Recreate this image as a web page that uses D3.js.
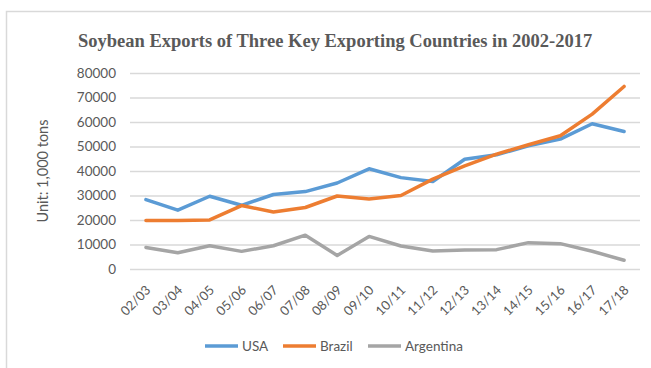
<!DOCTYPE html>
<html>
<head>
<meta charset="utf-8">
<script src="https://cdn.jsdelivr.net/npm/d3@7"></script>
<style>
  html, body { margin: 0; padding: 0; background: #fff; }
  svg { display: block; }
</style>
</head>
<body>
<svg id="chart" width="651" height="368"></svg>
<script>
// Marketing years (Sep/Aug) and exports in 1,000 tons
const seasons = ["02/03","03/04","04/05","05/06","06/07","07/08","08/09","09/10",
                 "10/11","11/12","12/13","13/14","14/15","15/16","16/17","17/18"];
const usa       = [28300, 24000, 29700, 26000, 30400, 31600, 35100, 40900,
                   37300, 35700, 44800, 46600, 50300, 53000, 59300, 56100];
const brazil    = [19800, 19800, 20050, 25900, 23300, 25100, 29800, 28600,
                   30000, 36700, 42100, 46900, 50700, 54400, 63200, 74500];
const argentina = [8800, 6650, 9500, 7200, 9500, 13800, 5550, 13300,
                   9400, 7350, 7750, 7900, 10750, 10350, 7250, 3550];
const yTicks = [0, 10000, 20000, 30000, 40000, 50000, 60000, 70000, 80000];
const seriesNames = ["USA", "Brazil", "Argentina"];
const seriesColors = ["#5B9BD5", "#ED7D31", "#A5A5A5"];

const series = [usa, brazil, argentina].map((values, i) => ({
  name: seriesNames[i], color: seriesColors[i], values
}));

const svg = d3.select("#chart");
const plot = { left: 130, right: 640, top: 73, bottom: 269 };
const textColor = "#595959";
const font = "Lato, 'Open Sans', sans-serif";

// outer chart frame
svg.append("rect")
  .attr("x", 6.5).attr("y", 11.5)
  .attr("width", 700).attr("height", 400)
  .attr("fill", "#fff").attr("stroke", "#D9D9D9").attr("stroke-width", 1.5);

const x = d3.scalePoint().domain(seasons).range([plot.left, plot.right]).padding(0.5);
const y = d3.scaleLinear().domain([0, 80000]).range([plot.bottom, plot.top]);

// title
svg.append("text")
  .attr("x", 78).attr("y", 46.5)
  .attr("font-family", "'Liberation Serif', 'Times New Roman', serif")
  .attr("font-weight", "bold").attr("font-size", 18.5)
  .attr("fill", textColor)
  .text("Soybean Exports of Three Key Exporting Countries in 2002-2017");

// horizontal gridlines + y labels
const yAxis = svg.append("g")
  .attr("transform", `translate(${plot.left},0)`)
  .call(d3.axisLeft(y).tickValues(yTicks).tickFormat(d3.format("d"))
        .tickSize(-(plot.right - plot.left)).tickPadding(14));
yAxis.select(".domain").remove();
yAxis.selectAll(".tick line").attr("stroke", "#D9D9D9").attr("stroke-width", 1.3);
yAxis.selectAll(".tick text")
  .attr("font-family", font).attr("font-size", 13.5).attr("fill", textColor);

// x labels, rotated
const xAxis = svg.append("g")
  .attr("transform", `translate(0,${plot.bottom})`)
  .call(d3.axisBottom(x).tickSize(0));
xAxis.select(".domain").remove();
xAxis.selectAll(".tick text")
  .attr("font-family", font).attr("font-size", 13).attr("fill", textColor)
  .attr("text-anchor", "end")
  .attr("dy", null).attr("y", 0)
  .attr("transform", "translate(5,22) rotate(-45)");

// y axis title
svg.append("text")
  .attr("transform", "translate(48,171) rotate(-90)")
  .attr("text-anchor", "middle")
  .attr("font-family", font).attr("font-size", 14.5).attr("fill", textColor)
  .text("Unit: 1,000 tons");

// series lines
const line = d3.line().x((d, i) => x(seasons[i])).y(d => y(d));
svg.append("g").selectAll("path")
  .data(series)
  .join("path")
  .attr("d", s => line(s.values))
  .attr("fill", "none")
  .attr("stroke", s => s.color)
  .attr("stroke-width", 3.5)
  .attr("stroke-linejoin", "round")
  .attr("stroke-linecap", "round");

// legend
const legendX = [205, 283, 368];
const legend = svg.append("g").selectAll("g")
  .data(series)
  .join("g")
  .attr("transform", (s, i) => `translate(${legendX[i]},346)`);
legend.append("line")
  .attr("x1", 0).attr("x2", 33).attr("y1", 0).attr("y2", 0)
  .attr("stroke", s => s.color).attr("stroke-width", 3.5);
legend.append("text")
  .attr("x", 37).attr("y", 5)
  .attr("font-family", font).attr("font-size", 13.5).attr("fill", textColor)
  .text(s => s.name);
</script>
</body>
</html>
